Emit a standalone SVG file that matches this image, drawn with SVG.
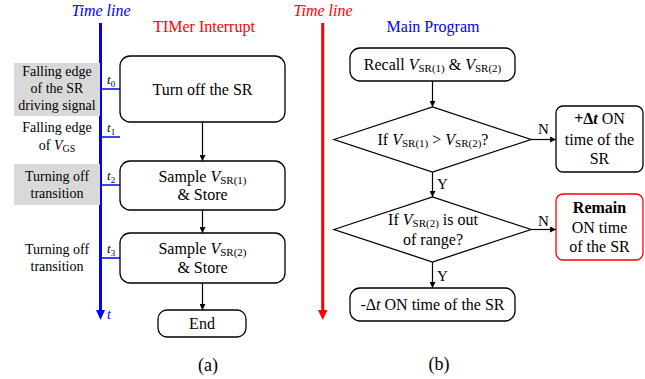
<svg xmlns="http://www.w3.org/2000/svg" width="645" height="379" viewBox="0 0 645 379" font-family="'Liberation Serif', 'DejaVu Serif', serif">
<style>
text{font-family:'Liberation Serif','DejaVu Serif',serif;fill:#000}
.n{font-size:16px;text-anchor:middle}
.l{font-size:14px;text-anchor:middle}
.s{font-size:11px}
.it{font-style:italic}
.box{fill:#fff;stroke:#000;stroke-width:1.3}
.gray{fill:#d9d9d9}
.c{stroke:#000;stroke-width:1.2;fill:none}
.tick{stroke:#0000ff;stroke-width:1.5}
</style>
<defs>
<marker id="a" viewBox="0 0 10 10" refX="10" refY="5" markerWidth="6" markerHeight="6" markerUnits="userSpaceOnUse" orient="auto"><path d="M0,0L10,5L0,10z" fill="#000"/></marker>
</defs>
<g id="timeline-a">
<text x="101" y="16" style="font-size:16px;font-style:italic;fill:#0000ff;text-anchor:middle">Time line</text>
<line x1="100.5" y1="23" x2="100.5" y2="311" stroke="#0000ff" stroke-width="3"/>
<path d="M96,310L105,310L100.5,320z" fill="#0000ff"/>
<text x="107" y="319" style="font-size:14px;font-style:italic;fill:#0000ff">t</text>
</g>
<text x="204" y="32" style="font-size:16px;fill:#ff0000;text-anchor:middle">TIMer Interrupt</text>
<g id="label-t0">
<rect class="gray" x="14" y="63" width="86" height="53"/>
<text class="l" x="57" y="76">Falling edge</text>
<text class="l" x="57" y="93">of the SR</text>
<text class="l" x="57" y="110">driving signal</text>
<line class="tick" x1="100" y1="89" x2="120" y2="89"/>
<text x="107" y="84" style="font-size:13px"><tspan class="it">t</tspan><tspan dy="3" font-size="9">0</tspan></text>
</g>
<g id="label-t1">
<text class="l" x="57" y="132">Falling edge</text>
<text class="l" x="57" y="150">of <tspan class="it">V</tspan><tspan dy="2" font-size="10">GS</tspan></text>
<line class="tick" x1="100" y1="137" x2="120" y2="137"/>
<text x="107" y="132" style="font-size:13px"><tspan class="it">t</tspan><tspan dy="3" font-size="9">1</tspan></text>
</g>
<g id="label-t2">
<rect class="gray" x="14" y="164" width="86" height="41"/>
<text class="l" x="57" y="181">Turning off</text>
<text class="l" x="57" y="198">transition</text>
<line class="tick" x1="100" y1="185" x2="120" y2="185"/>
<text x="107" y="180" style="font-size:13px"><tspan class="it">t</tspan><tspan dy="3" font-size="9">2</tspan></text>
</g>
<g id="label-t3">
<text class="l" x="57" y="254">Turning off</text>
<text class="l" x="57" y="271">transition</text>
<line class="tick" x1="100" y1="258" x2="120" y2="258"/>
<text x="107" y="253" style="font-size:13px"><tspan class="it">t</tspan><tspan dy="3" font-size="9">3</tspan></text>
</g>
<g id="turn-off">
<rect class="box" x="120" y="56" width="165" height="66" rx="10"/>
<text class="n" x="202.5" y="95">Turn off the SR</text>
</g>
<g id="sample1">
<rect class="box" x="120" y="161" width="165" height="49" rx="10"/>
<text class="n" x="202.5" y="182">Sample <tspan class="it">V</tspan><tspan class="s" dy="2">SR(1)</tspan></text>
<text class="n" x="202.5" y="200">&amp; Store</text>
</g>
<g id="sample2">
<rect class="box" x="120" y="233" width="165" height="50" rx="10"/>
<text class="n" x="202.5" y="254">Sample <tspan class="it">V</tspan><tspan class="s" dy="2">SR(2)</tspan></text>
<text class="n" x="202.5" y="273">&amp; Store</text>
</g>
<g id="end">
<rect class="box" x="158" y="310" width="88" height="27" rx="9"/>
<text class="n" x="202" y="329">End</text>
</g>
<text x="208" y="371" style="font-size:18px;text-anchor:middle">(a)</text>
<g id="timeline-b">
<text x="323" y="16" style="font-size:16px;font-style:italic;fill:#ff0000;text-anchor:middle">Time line</text>
<line x1="322.7" y1="23" x2="322.7" y2="311" stroke="#ff0000" stroke-width="3"/>
<path d="M318,310L327.5,310L322.7,320z" fill="#ff0000"/>
</g>
<text x="433" y="32" style="font-size:16px;fill:#0000ff;text-anchor:middle">Main Program</text>
<g id="recall">
<rect class="box" x="350" y="48" width="165" height="33" rx="10"/>
<text class="n" x="432.5" y="70">Recall <tspan class="it">V</tspan><tspan class="s" dy="2">SR(1)</tspan><tspan dy="-2"> &amp; </tspan><tspan class="it">V</tspan><tspan class="s" dy="2">SR(2)</tspan></text>
</g>
<g id="cond1">
<path class="box" d="M334,139.5L432.5,107L531,139.5L432.5,172z"/>
<text class="n" x="433" y="145">If <tspan class="it">V</tspan><tspan class="s" dy="2">SR(1)</tspan><tspan dy="-2"> &gt; </tspan><tspan class="it">V</tspan><tspan class="s" dy="2">SR(2)</tspan><tspan dy="-2">?</tspan></text>
</g>
<g id="plus">
<rect class="box" x="556" y="106" width="87" height="66" rx="7"/>
<text class="n" x="599.5" y="124"><tspan font-weight="bold">+Δ<tspan class="it">t</tspan></tspan> ON</text>
<text class="n" x="599.5" y="145">time of the</text>
<text class="n" x="599.5" y="164">SR</text>
</g>
<g id="cond2">
<path class="box" d="M334,229.5L432.5,197L531,229.5L432.5,262z"/>
<text class="n" x="433" y="225">If  <tspan class="it">V</tspan><tspan class="s" dy="2">SR(2)</tspan><tspan dy="-2"> is out</tspan></text>
<text class="n" x="433" y="245">of range?</text>
</g>
<g id="remain">
<rect x="556" y="194" width="87" height="66" rx="7" fill="#fff" stroke="#ff0000" stroke-width="1.3"/>
<text class="n" x="599.5" y="213" font-weight="bold">Remain</text>
<text class="n" x="599.5" y="233">ON time</text>
<text class="n" x="599.5" y="252">of the SR</text>
</g>
<g id="minus">
<rect class="box" x="350" y="288" width="165" height="33" rx="10"/>
<text class="n" x="432.5" y="310">-Δ<tspan class="it">t</tspan> ON time of the SR</text>
</g>
<text x="439" y="370" style="font-size:18px;text-anchor:middle">(b)</text>
<g id="connectors">
<line class="c" x1="202.5" y1="122" x2="202.5" y2="161" marker-end="url(#a)"/>
<line class="c" x1="202.5" y1="210" x2="202.5" y2="233" marker-end="url(#a)"/>
<line class="c" x1="202.5" y1="283" x2="202.5" y2="310" marker-end="url(#a)"/>
<line class="c" x1="432.5" y1="81" x2="432.5" y2="107" marker-end="url(#a)"/>
<line class="c" x1="531" y1="139.5" x2="556" y2="139.5" marker-end="url(#a)"/>
<text x="538" y="134" style="font-size:15px">N</text>
<line class="c" x1="432.5" y1="172" x2="432.5" y2="197" marker-end="url(#a)"/>
<text x="437" y="189" style="font-size:15px">Y</text>
<line class="c" x1="531" y1="229.5" x2="556" y2="229.5" marker-end="url(#a)"/>
<text x="538" y="226" style="font-size:15px">N</text>
<line class="c" x1="432.5" y1="262" x2="432.5" y2="288" marker-end="url(#a)"/>
<text x="437" y="281" style="font-size:15px">Y</text>
</g>
</svg>
